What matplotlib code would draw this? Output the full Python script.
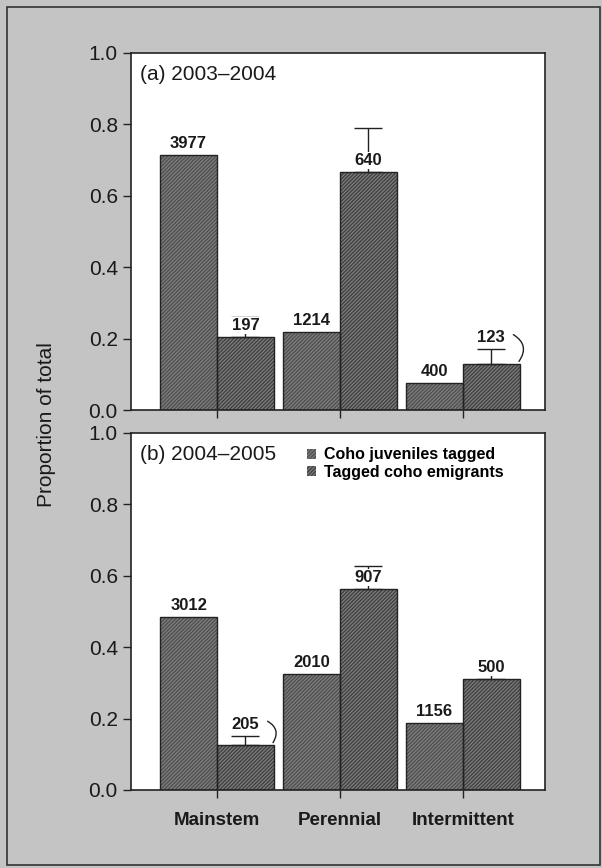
import numpy as np
import matplotlib.pyplot as plt
from matplotlib.patches import Rectangle

plt.rcParams['font.family'] = ['Liberation Sans', 'DejaVu Sans']
plt.rcParams['hatch.linewidth'] = 0.9

# ---- data ----
habitats = ['Mainstem', 'Perennial', 'Intermittent']

juv_a = [0.714, 0.218, 0.076]
emig_a = [0.204, 0.667, 0.130]
emig_err_a = [0.056, 0.123, 0.040]
juv_n_a = ['3977', '1214', '400']
emig_n_a = ['197', '640', '123']

juv_b = [0.485, 0.325, 0.188]
emig_b = [0.126, 0.563, 0.311]
emig_err_b = [0.025, 0.064, 0.048]
juv_n_b = ['3012', '2010', '1156']
emig_n_b = ['205', '907', '500']

# which emigrant labels sit above the error cap (with a bracket to the bar)
above_cap_a = [False, False, True]
above_cap_b = [True, False, False]

series_names = ['Coho juveniles tagged', 'Tagged coho emigrants']

bg = '#c4c4c4'
juv_color = '#505050'
emig_color = '#404040'
hatch_color = '#7e7e7e'
txt = '#1a1a1a'

fig = plt.figure(figsize=(6.02, 8.68), dpi=100, facecolor=bg)
fig.patches.append(Rectangle((0.011, 0.003), 0.986, 0.989, transform=fig.transFigure,
                             fill=False, edgecolor='#333333', linewidth=1.2))

ax_a = fig.add_axes([0.2176, 0.5276, 0.688, 0.4114])
ax_b = fig.add_axes([0.2176, 0.0899, 0.688, 0.4114])

ind = np.arange(3)
width = 0.463


def draw_panel(ax, juv, emig, err, juv_n, emig_n, above_cap, title):
    xj = ind - width / 2
    xe = ind + width / 2
    b1 = ax.bar(xj, juv, width, facecolor=juv_color, edgecolor=hatch_color,
                hatch='/' * 9, linewidth=0, zorder=2)
    b2 = ax.bar(xe, emig, width, facecolor=emig_color, edgecolor=hatch_color,
                hatch='/' * 9, linewidth=0, zorder=2)
    ax.bar(xj, juv, width, fill=False, edgecolor='#222222', linewidth=1.0, zorder=3)
    ax.bar(xe, emig, width, fill=False, edgecolor='#222222', linewidth=1.0, zorder=3)
    ax.errorbar(xe, emig, yerr=[np.zeros(3), err], fmt='none', ecolor='#222222',
                elinewidth=1.0, capsize=10, capthick=1.0, zorder=4)

    for x, v, n in zip(xj, juv, juv_n):
        ax.annotate(n, (x, v), xytext=(0, 3), textcoords='offset points',
                    ha='center', va='bottom', fontsize=12, fontweight='bold',
                    color=txt, zorder=5)
    for x, v, e, n, up in zip(xe, emig, err, emig_n, above_cap):
        if up:
            ax.annotate(n, (x, v + e), xytext=(0, 3), textcoords='offset points',
                        ha='center', va='bottom', fontsize=12, fontweight='bold',
                        color=txt, zorder=5)
            ax.annotate('', xy=(x + width / 2 - 0.02, v), xytext=(x + 0.16, v + e + 0.045),
                        arrowprops=dict(arrowstyle='-', color='#222222', lw=1.0,
                                        connectionstyle='arc3,rad=-0.6'), zorder=5)
        else:
            ax.annotate(n, (x, v), xytext=(0, 3), textcoords='offset points',
                        ha='center', va='bottom', fontsize=12, fontweight='bold',
                        color=txt, zorder=5,
                        bbox=dict(boxstyle='square,pad=0.05', fc='white', ec='none'))

    ax.set_xlim(-0.70, 2.67)
    ax.set_ylim(0, 1.0)
    ax.set_yticks([0, 0.2, 0.4, 0.6, 0.8, 1.0])
    ax.set_yticklabels(['0.0', '0.2', '0.4', '0.6', '0.8', '1.0'])
    ax.set_xticks(ind)
    ax.tick_params(axis='both', direction='out', length=6, width=1.0,
                   labelsize=15, colors='#222222', labelcolor=txt)
    for s in ax.spines.values():
        s.set_linewidth(1.2)
        s.set_color('#222222')
    ax.text(0.022, 0.965, title, transform=ax.transAxes, ha='left', va='top',
            fontsize=15, color=txt)
    return b1, b2


draw_panel(ax_a, juv_a, emig_a, emig_err_a, juv_n_a, emig_n_a, above_cap_a,
           '(a) 2003\u20132004')
ax_a.set_xticklabels([])

p1, p2 = draw_panel(ax_b, juv_b, emig_b, emig_err_b, juv_n_b, emig_n_b, above_cap_b,
                    '(b) 2004\u20132005')
ax_b.set_xticklabels(habitats, fontsize=13.5, fontweight='bold')
ax_b.tick_params(axis='x', pad=10)

ax_b.legend((p1[0], p2[0]), series_names, loc='upper left',
            bbox_to_anchor=(0.39, 1.0), frameon=False, handlelength=0.6,
            handleheight=0.6, handletextpad=0.5, labelspacing=0.15,
            prop={'size': 11.5, 'weight': 'bold'})

fig.text(0.078, 1 - 425 / 868, 'Proportion of total', rotation=90,
         ha='center', va='center', fontsize=15, color=txt)

plt.savefig('out.png', dpi=100, facecolor=bg)
